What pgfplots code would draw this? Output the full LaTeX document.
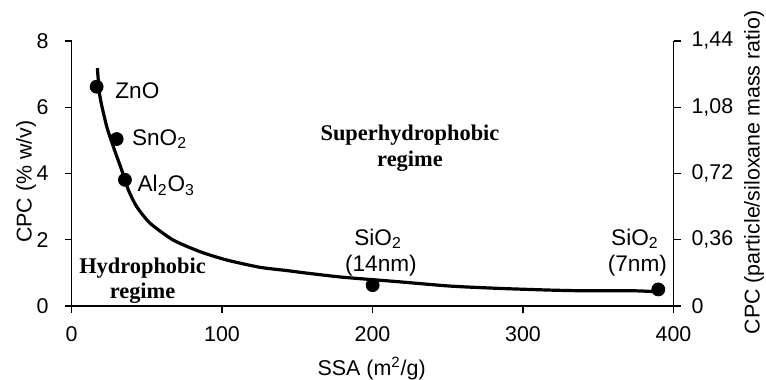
\documentclass[border=0pt]{standalone}
\usepackage{pgfplots}
\pgfplotsset{compat=1.18}
\usepackage{fontspec}
\setmainfont{Liberation Sans}
\newfontfamily\serifb{Liberation Serif}
\begin{document}
\begin{tikzpicture}[font=\fontsize{10.7}{12}\selectfont]
\useasboundingbox (-35.75pt,-37pt) rectangle (347.25pt,153pt);
\begin{axis}[
  at={(0,0)}, anchor=south west,
  scale only axis, width=301pt, height=132.5pt,
  xmin=0, xmax=400, ymin=0, ymax=8,
  axis x line*=bottom, axis y line*=left,
  xtick={0,100,...,400}, ytick={0,2,...,8},
  tick align=outside, major tick length=3.5pt,
  tick style={black, line width=0.6pt},
  axis line style={line width=0.6pt},
  /pgf/number format/assume math mode=true,
  ticklabel style={font=\fontsize{10.7}{12}\selectfont},
  yticklabel style={xshift=-4.5pt},
  xticklabel style={yshift=-3pt},
  clip=false,
]
\addplot[black, line width=1.6pt, smooth, tension=0.4, line join=round] coordinates {
(17.2,7.18) (18.9,6.32) (23.4,5.42) (27.8,4.81) (33.3,4.11) (37.8,3.50)
(43.3,3.00) (52.2,2.50) (67.6,1.99) (85.4,1.64) (103,1.39) (125,1.17)
(143,1.07) (155,1.00) (180,0.87) (218,0.73) (252,0.60) (285,0.53)
(318,0.48) (340,0.46) (373,0.46) (389,0.43)
};
\addplot[only marks, mark=*, mark size=3.25pt, black] coordinates {
(16.7,6.62) (30.0,5.04) (35.5,3.81) (200.1,0.63) (389.9,0.50)
};
\begin{scope}[every node/.style={font=\fontsize{11.3}{13}\selectfont, inner sep=0}]
\node[anchor=base west] at (axis cs:28.9,6.27) {ZnO};
\node[anchor=base west] at (axis cs:40.0,4.86) {SnO\textsubscript{2}};
\node[anchor=base west] at (axis cs:43.7,3.45) {Al\textsubscript{2}O\textsubscript{3}};
\node[anchor=base] at (axis cs:203.7,1.84) {SiO\textsubscript{2}};
\node[anchor=base] at (axis cs:205.6,1.04) {(14nm)};
\node[anchor=base] at (axis cs:374.4,1.84) {SiO\textsubscript{2}};
\node[anchor=base] at (axis cs:376,1.04) {(7nm)};
\end{scope}
\node[anchor=base, inner sep=0, font=\fontsize{11.2}{13}\serifb\bfseries] at (axis cs:224.9,5.01) {Superhydrophobic};
\node[anchor=base, inner sep=0, font=\fontsize{11.2}{13}\serifb\bfseries] at (axis cs:224.9,4.21) {regime};
\node[anchor=base, inner sep=0, font=\fontsize{11.2}{13}\serifb\bfseries] at (axis cs:47.2,0.99) {Hydrophobic};
\node[anchor=base, inner sep=0, font=\fontsize{11.2}{13}\serifb\bfseries] at (axis cs:47.2,0.23) {regime};
\end{axis}
\begin{axis}[
  at={(0,0)}, anchor=south west,
  scale only axis, width=301pt, height=132.5pt,
  xmin=0, xmax=400, ymin=0, ymax=1.44,
  axis x line=none, axis y line*=right,
  ytick={0,0.36,0.72,1.08,1.44},
  yticklabels={0,{0,36},{0,72},{1,08},{1,44}},
  tick align=outside, major tick length=3.5pt,
  tick style={black, line width=0.6pt},
  axis line style={line width=0.6pt},
  ticklabel style={font=\fontsize{10.7}{12}\selectfont},
  yticklabel style={xshift=2pt},
]
\end{axis}
\node at (150.1pt,-31.2pt) {SSA (m\textsuperscript{2}/g)};
\node[rotate=90] at (-22.75pt,62.25pt) {CPC (\% w/v)};
\node[rotate=90] at (341.25pt,66.75pt) {CPC (particle/siloxane mass ratio)};
\end{tikzpicture}
\end{document}
